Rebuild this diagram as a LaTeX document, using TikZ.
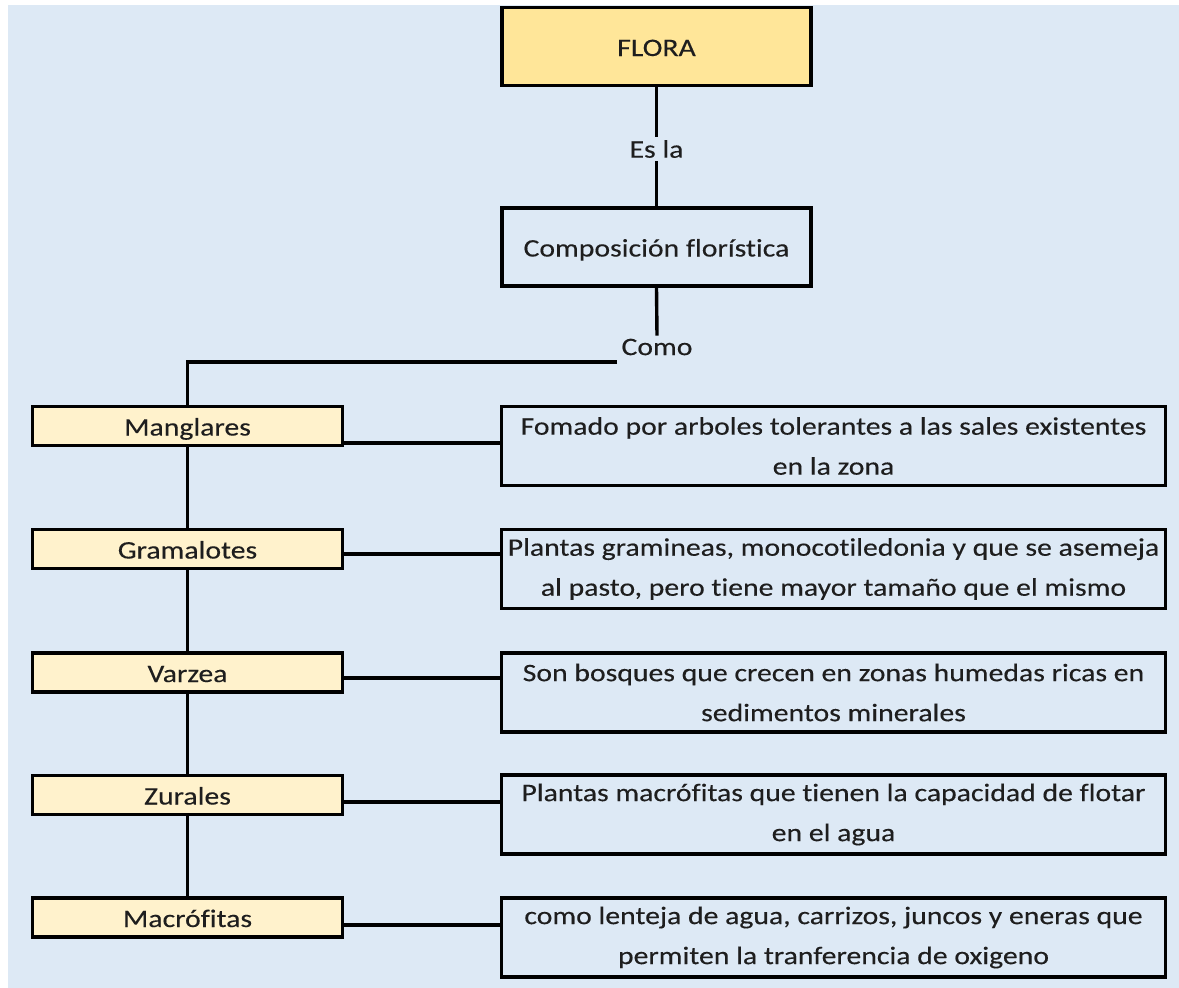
\documentclass[tikz,border=0pt]{standalone}
\usepackage{fontspec}
\setmainfont{Carlito}[FakeStretch=1.18, FakeBold=0.25, Ligatures={NoCommon,NoContextual}]
\definecolor{bgblue}{HTML}{DDE9F5}
\definecolor{florafill}{HTML}{FFE699}
\definecolor{kindfill}{HTML}{FFF2CC}
\definecolor{txt}{HTML}{1E1E1E}
\begin{document}
\begin{tikzpicture}[x=1pt,y=-1pt,
  every node/.style={font=\fontsize{25.2}{40}\selectfont, text=txt},
  frame/.style={draw=black, line width=3.4pt, rectangle, inner sep=0pt},
  oneline/.style={text height=19pt, text depth=0pt},
  headbox/.style={frame, oneline, minimum width=309pt, minimum height=78pt},
  kindbox/.style={frame, oneline, fill=kindfill, minimum width=310pt, minimum height=39pt},
  descbox/.style={frame, minimum width=664pt, minimum height=79pt, align=center},
  lbl/.style={inner sep=3pt},
  link/.style={draw=black, line width=3.4pt}]
% page and background panel
\fill[white] (0,0) rectangle (1179,988);
\fill[bgblue] (8,5) rectangle (1179,988);
\useasboundingbox (0,0) rectangle (1179,988);

% top of the map
\node[headbox, fill=florafill] (flora) at (656.5,46.5) {FLORA};
\node[lbl] (esla) at (656.5,149) {Es la};
\node[headbox] (comp) at (656.5,247) {Composición florística};
\node[lbl] (como) at (657,347) {Como};
\coordinate (split) at (617,362);

% kinds of vegetation
\node[kindbox] (k1) at (187.5,426) {Manglares};
\node[kindbox] (k2) at (187.5,549) {Gramalotes};
\node[kindbox] (k3) at (187.5,672.5) {Varzea};
\node[kindbox] (k4) at (187.5,795) {Zurales};
\node[kindbox] (k5) at (187.5,917.5) {Macrófitas};

% descriptions
\node[descbox] (d1) at (833.5,446) {Fomado por arboles tolerantes a las sales existentes\\en la zona};
\node[descbox] (d2) at (833.5,569) {Plantas gramineas, monocotiledonia y que se asemeja\\al pasto, pero tiene mayor tamaño que el mismo};
\node[descbox] (d3) at (833.5,692.5) {Son bosques que crecen en zonas humedas ricas en\\sedimentos minerales};
\node[descbox] (d4) at (833.5,814.5) {Plantas macrófitas que tienen la capacidad de flotar\\en el agua};
\node[descbox] (d5) at (833.5,937.5) {como lenteja de agua, carrizos, juncos y eneras que\\permiten la tranferencia de oxigeno};

% connectors
\draw[link] (flora.south) -- (esla.north);
\draw[link] (esla.south) -- (comp.north);
\draw[link] (comp.south) -- (como.north);
\draw[link] (split) -| (k1.north);
\draw[link] (k1.south) -- (k2.north);
\draw[link] (k2.south) -- (k3.north);
\draw[link] (k3.south) -- (k4.north);
\draw[link] (k4.south) -- (k5.north);
\draw[link] (k1.east |- 0,443) -- (d1.west |- 0,443);
\draw[link] (k2.east |- 0,554) -- (d2.west |- 0,554);
\draw[link] (k3.east |- 0,678) -- (d3.west |- 0,678);
\draw[link] (k4.east |- 0,802) -- (d4.west |- 0,802);
\draw[link] (k5.east |- 0,925) -- (d5.west |- 0,925);
\end{tikzpicture}
\end{document}
